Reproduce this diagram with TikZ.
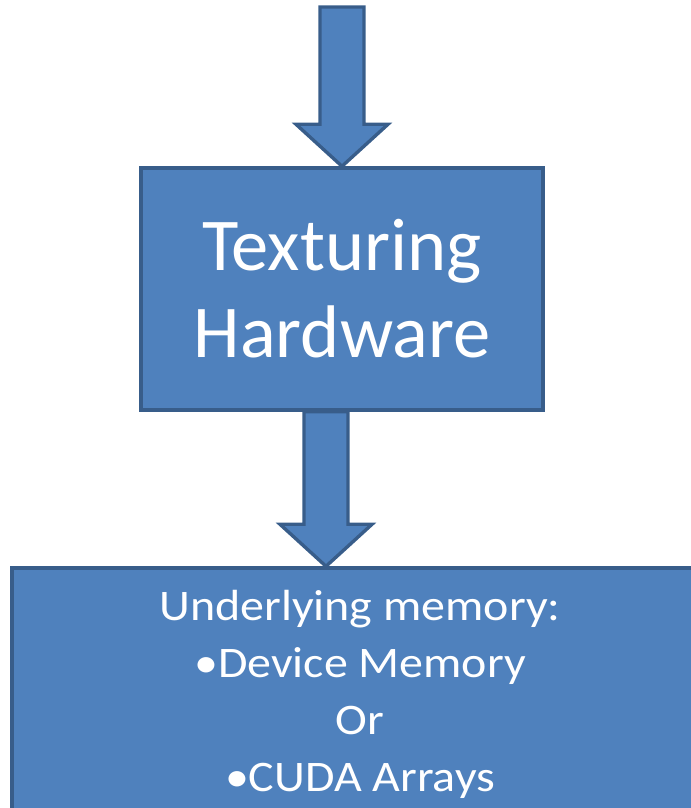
\documentclass[tikz,border=0pt]{standalone}
\usepackage{fontspec}
\newfontfamily\calibri{Carlito}
\newfontfamily\calibriwide[FakeStretch=1.1]{Carlito}
\usetikzlibrary{calc,backgrounds}
\definecolor{boxfill}{HTML}{4F81BD}
\definecolor{boxline}{HTML}{385D8A}
\tikzset{
  blockbox/.style={draw=boxline, fill=boxfill, line width=2.4pt, text=white, align=center, inner sep=0pt},
  arrowbody/.style={draw=boxline, fill=boxfill, line width=2.4pt, line join=miter},
}
% block arrow from shaft top #1 down to tip #2
\newcommand{\blockarrow}[2]{%
  \draw[arrowbody] ($(#1)+(-22,0)$) -- ($(#1)+(22,0)$) -- ($(#2)+(22,-42)$)
    -- ($(#2)+(46,-42)$) -- (#2) -- ($(#2)+(-46,-42)$) -- ($(#2)+(-22,-42)$) -- cycle;}

\begin{document}
\begin{tikzpicture}[x=0.025cm, y=-0.025cm, font=\calibri]
  \useasboundingbox (0,0) rectangle (690,808);

  \node[blockbox, minimum width=10.05cm, minimum height=6.05cm,
        font=\calibri\fontsize{53}{62}\selectfont] (tex) at (342,289) {Texturing\\Hardware};
  \node[blockbox, minimum width=17.4cm, minimum height=6.3cm,
        font=\calibriwide\fontsize{31}{40.5}\selectfont] (mem) at (360,694)
    {Underlying memory:\\•Device Memory\\Or\\•CUDA Arrays};

  \coordinate (src) at (342,7);
  \coordinate (t1) at (326,0 |- tex.south);
  \coordinate (t2) at (326,0 |- mem.north);

  \begin{scope}[on background layer]
    \blockarrow{src}{tex.north}
    \blockarrow{t1}{t2}
  \end{scope}
\end{tikzpicture}
\end{document}
